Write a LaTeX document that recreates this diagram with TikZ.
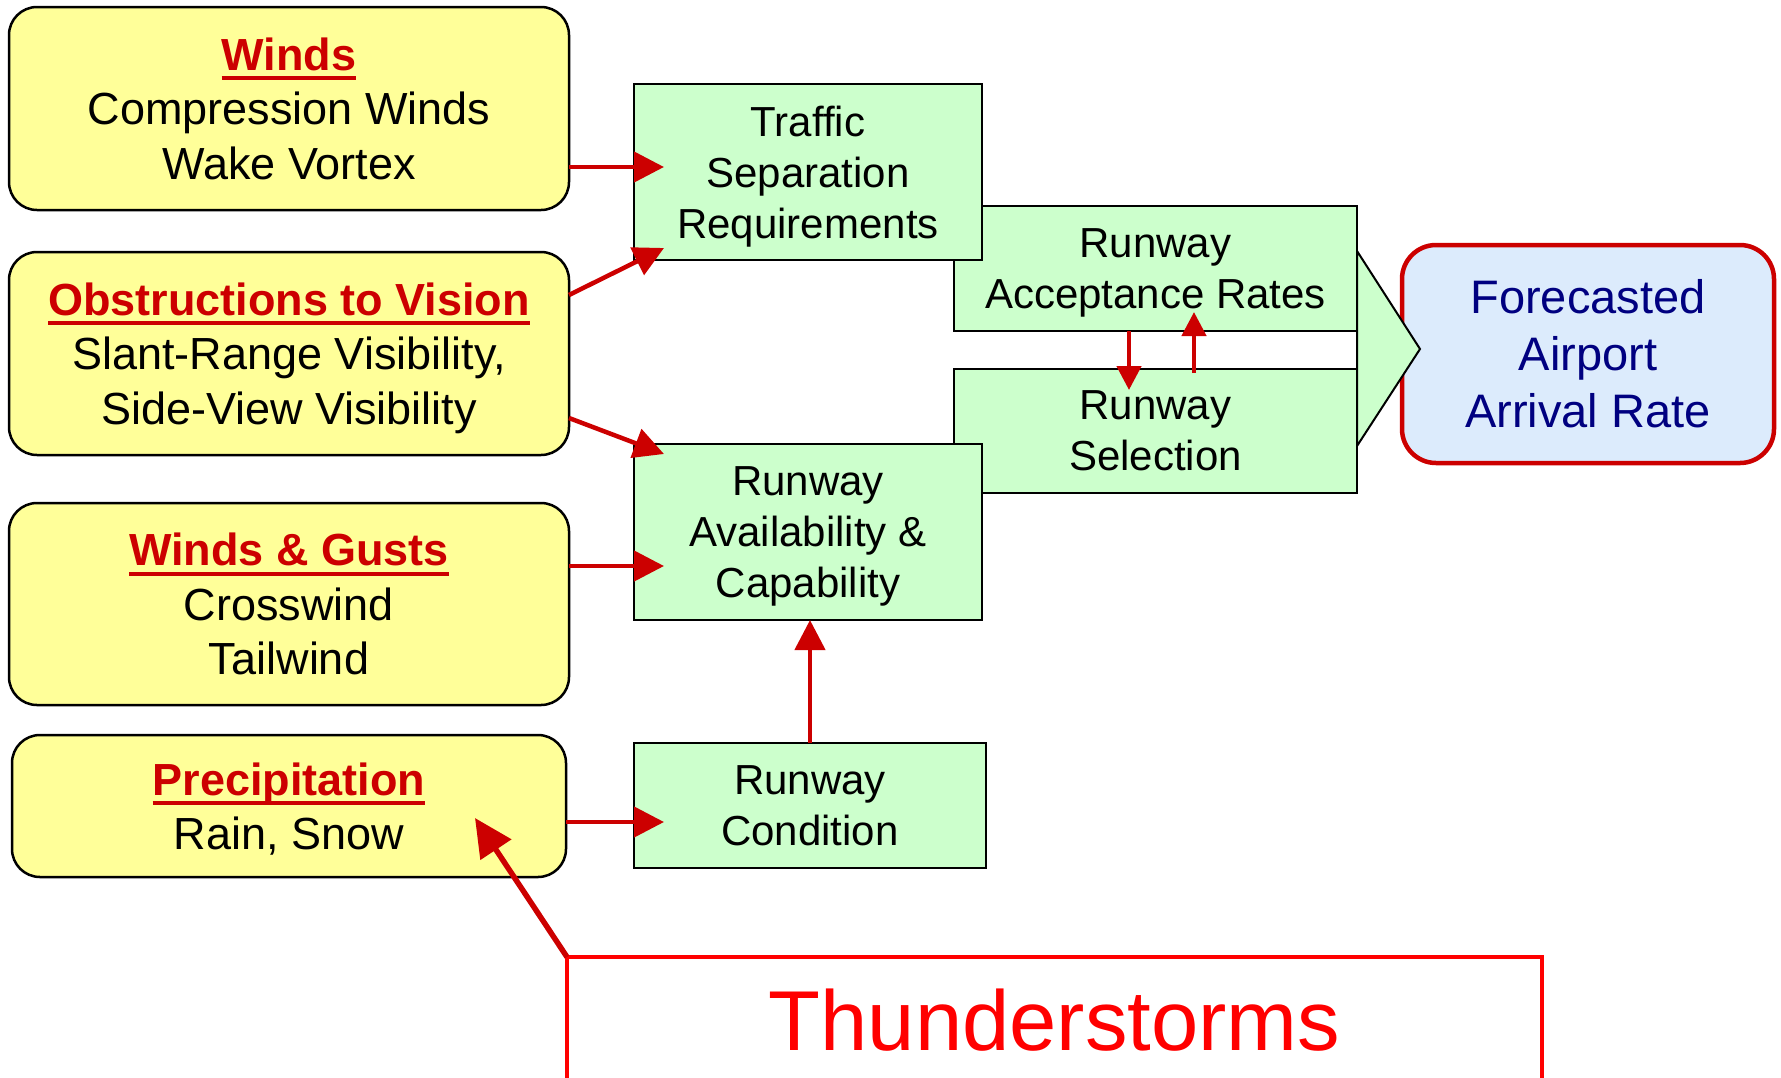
\documentclass[tikz,border=0pt]{standalone}
\usepackage{fontspec}
\setmainfont{Liberation Sans}
\usetikzlibrary{arrows.meta}
\definecolor{causefill}{RGB}{255,255,153}
\definecolor{factorfill}{RGB}{204,255,204}
\definecolor{ratefill}{RGB}{220,235,252}
\definecolor{hdrred}{RGB}{204,0,0}
\definecolor{ratenavy}{RGB}{0,0,128}
\newcommand\hdr[1]{{\bfseries\color{hdrred}\setbox0\hbox{#1}\rlap{\vrule width\wd0 height -6pt depth 10pt}\box0}}
\begin{document}
\begin{tikzpicture}[x=1pt,y=-1pt]
\tikzstyle{every node}=[outer sep=0pt,inner sep=0pt,align=center]
\tikzstyle{cause}=[draw=black,line width=2.5pt,fill=causefill,rounded corners=28pt,minimum width=560pt,text depth=0pt,font=\fontsize{45}{54.5}\selectfont]
\tikzstyle{factor}=[draw=black,line width=2.5pt,fill=factorfill,text depth=0pt,font=\fontsize{42}{51}\selectfont]
\tikzstyle{flow}=[draw=hdrred,line width=4.5pt,-{Triangle[length=30pt,width=30pt]}]
\tikzstyle{shortflow}=[draw=hdrred,line width=4.5pt,-{Triangle[length=24pt,width=24pt]}]
\useasboundingbox (0,0) rectangle (1781,1077);

\node[cause,minimum height=203pt] (winds) at (289,108.5) {\hdr{Winds}\\Compression Winds\\Wake Vortex};
\node[cause,minimum height=203pt] (obstr) at (289,353.5) {\hdr{Obstructions to Vision}\\Slant-Range Visibility,\\Side-View Visibility};
\node[cause,minimum height=202pt] (gusts) at (289,604) {\hdr{Winds \& Gusts}\\Crosswind\\Tailwind};
\node[cause,minimum width=554pt,minimum height=142pt] (precip) at (289,806) {\hdr{Precipitation}\\Rain, Snow};

\node[factor,minimum width=403pt,minimum height=125pt] (accept) at (1155.5,268.5) {Runway\\Acceptance Rates};
\node[factor,minimum width=403pt,minimum height=124pt] (select) at (1155.5,431) {Runway\\Selection};
\node[factor,minimum width=348pt,minimum height=176pt] (traffic) at (808,172) {Traffic\\Separation\\Requirements};
\node[factor,minimum width=348pt,minimum height=176pt] (avail) at (808,532) {Runway\\Availability \&\\Capability};
\node[factor,minimum width=352pt,minimum height=125pt] (cond) at (810,805.5) {Runway\\Condition};

\node[draw=hdrred,line width=4.5pt,fill=ratefill,rounded corners=34pt,minimum width=372pt,minimum height=218pt,text=ratenavy,font=\fontsize{47}{57}\selectfont] (rate) at (1588,354) {Forecasted\\Airport\\Arrival Rate};
\filldraw[fill=factorfill,draw=black,line width=2pt] (1357,251) -- (1420,349) -- (1357,446) -- cycle;

\node[draw=red,line width=4pt,minimum width=975pt,minimum height=126pt,text=red,font=\fontsize{85}{100}\selectfont] (storm) at (1054.5,1020) {Thunderstorms};
\coordinate (rainpt) at (475,818);

\draw[flow] ([yshift=-58.5pt]winds.east) -- ([xshift=30pt,yshift=5pt]traffic.west);
\draw[flow] ([yshift=58.5pt]obstr.east) -- ([xshift=30pt,yshift=12pt]traffic.south west);
\draw[flow] ([yshift=-64.5pt]obstr.east) -- ([xshift=30pt,yshift=-10pt]avail.north west);
\draw[flow] ([yshift=38pt]gusts.east) -- ([xshift=30pt,yshift=-34pt]avail.west);
\draw[flow] ([yshift=-16pt]precip.east) -- ([xshift=30pt,yshift=-16.5pt]cond.west);
\draw[flow] (cond.north) -- (cond.north |- avail.south);
\draw[shortflow] ([xshift=-26.5pt]accept.south) -- ([xshift=-26.5pt,yshift=-21pt]select.north);
\draw[shortflow] ([xshift=38.5pt,yshift=-4pt]select.north) -- ([xshift=38.5pt,yshift=19pt]accept.south);
\draw[flow,line width=5.5pt,-{Triangle[length=38pt,width=36pt]}] (storm.north west) -- (rainpt);
\end{tikzpicture}
\end{document}
